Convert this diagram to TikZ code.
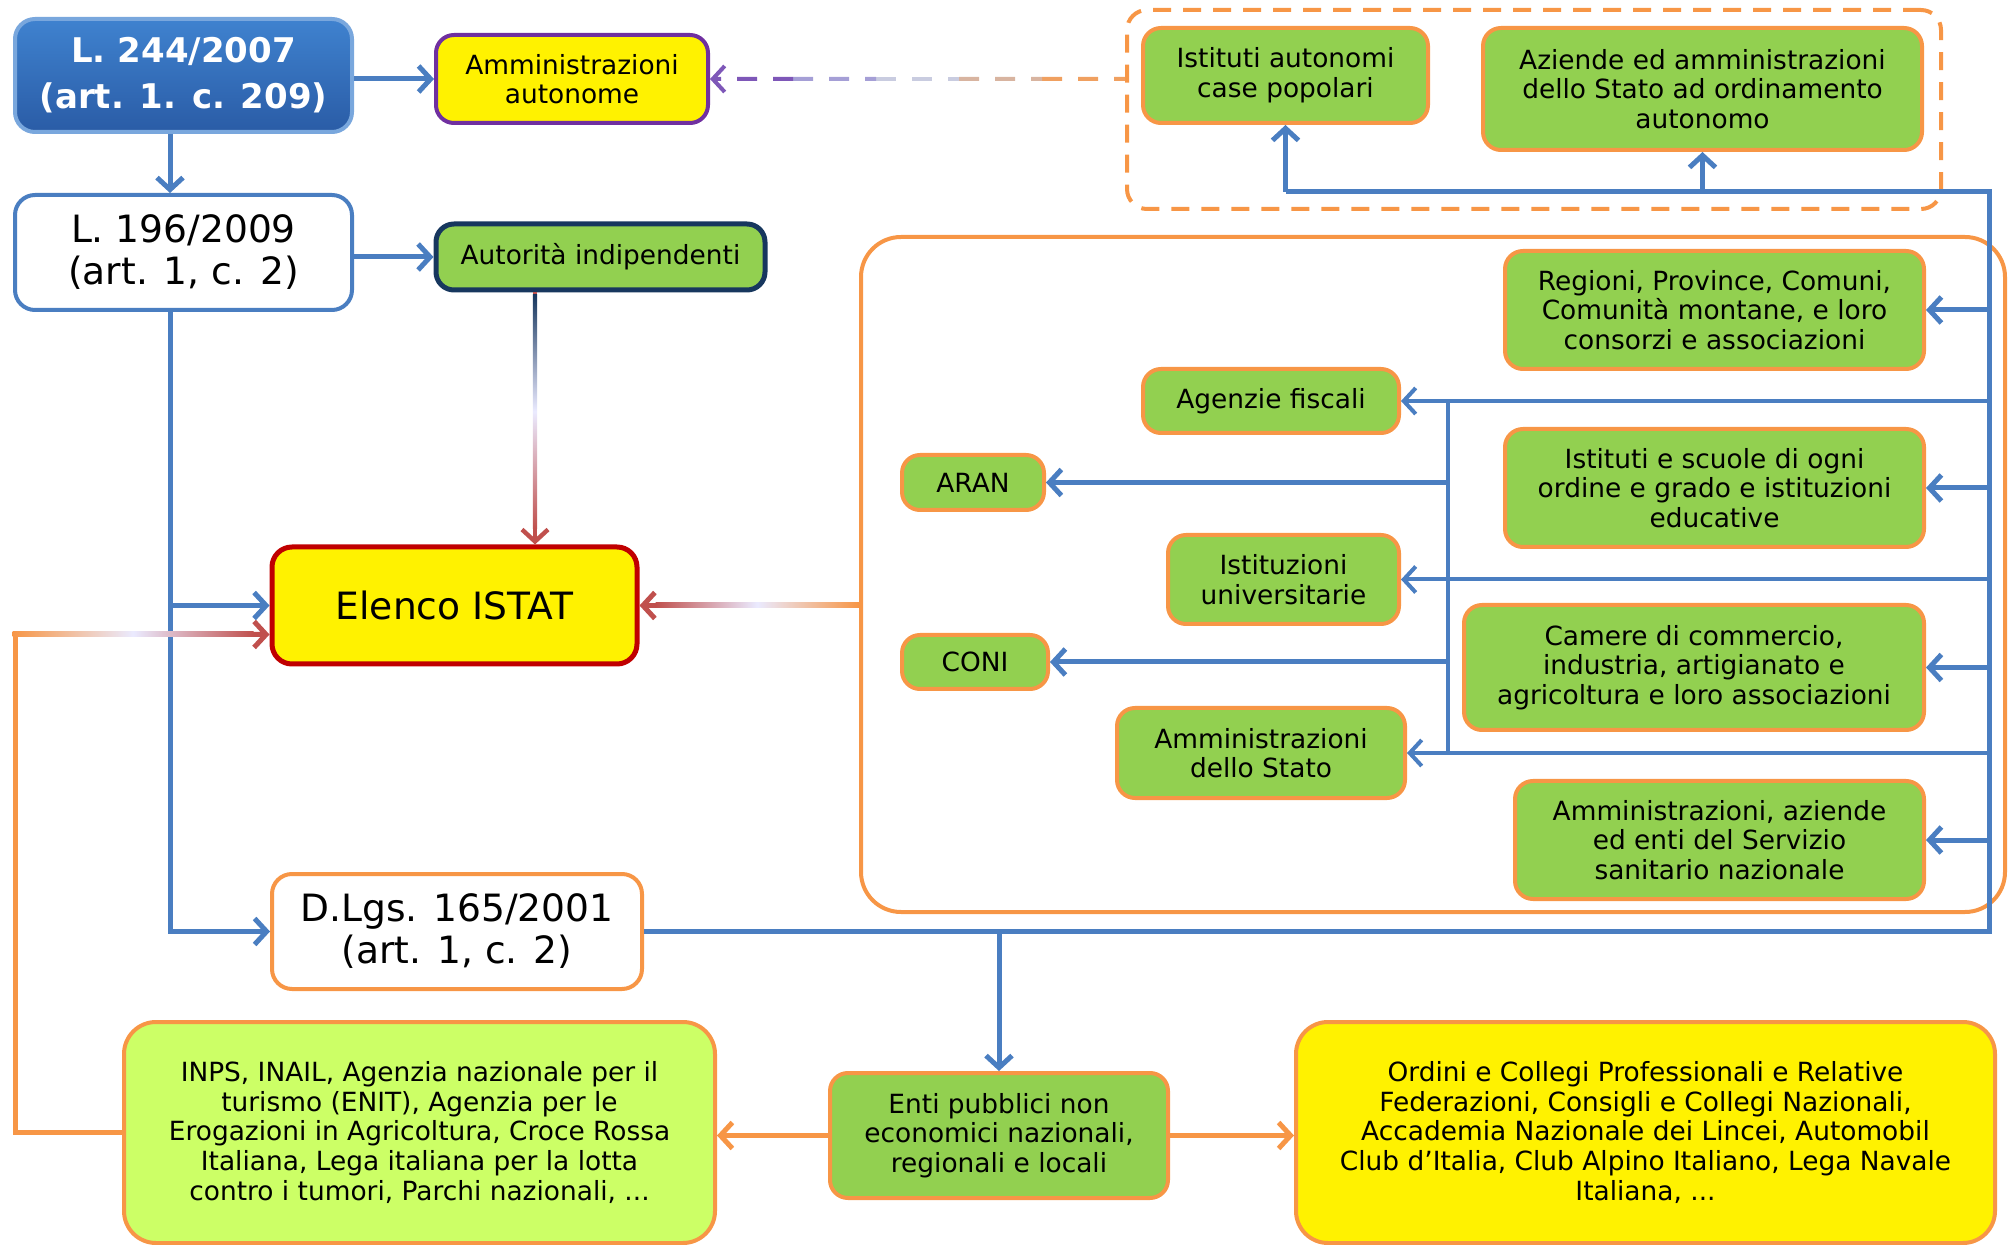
\documentclass[tikz,border=0pt]{standalone}
\usepackage{fontspec}
\setmainfont{DejaVu Sans}
\usetikzlibrary{arrows.meta,calc}

\definecolor{linkblue}{HTML}{4A7EC1}
\definecolor{boxorange}{HTML}{F79646}
\definecolor{boxgreen}{HTML}{92D050}
\definecolor{lightlime}{HTML}{CCFF66}
\definecolor{navyline}{HTML}{17375E}
\definecolor{lawblue}{HTML}{3F82CF}
\definecolor{lawdark}{HTML}{2A5CA6}
\definecolor{violetline}{HTML}{7030A0}
\definecolor{redline}{HTML}{C0504D}
\definecolor{darkred}{HTML}{C00000}
\definecolor{dashviolet}{HTML}{7E57B8}
\definecolor{dashlav}{HTML}{A59FD6}
\definecolor{dashpale}{HTML}{C9CCE0}
\definecolor{dashtan}{HTML}{D8B4A0}
\definecolor{dashorange}{HTML}{F0A060}

\newcommand{\boxfont}{\fontsize{13.2}{14.8}\selectfont}
\newcommand{\lawfont}{\fontsize{18.8}{21}\selectfont}

\begin{document}
\begin{tikzpicture}[x=0.5pt, y=-0.5pt,
    barb/.style={-{Straight Barb[length=6pt,width=13pt]}},
    bluelink/.style={draw=linkblue, line width=2.5pt, barb},
    orangelink/.style={draw=boxorange, line width=2.5pt},
    dashlink/.style={line width=2pt, dash pattern=on 10pt off 8pt},
    greenbox/.style={draw=boxorange, fill=boxgreen, line width=2pt, rounded corners=9pt,
        align=center, font=\boxfont, inner sep=0pt},
    lawbox/.style={fill=white, line width=2pt, rounded corners=10pt,
        align=center, font=\lawfont, inner sep=0pt}]
    \useasboundingbox (0,0) rectangle (2009,1245);

    % Frames
    \node[draw=boxorange, line width=2pt, rounded corners=20pt, minimum width=572pt, minimum height=337.5pt] (bigbox) at (1433,574.5) {};
    \node[draw=boxorange, line width=2pt, rounded corners=10pt, dash pattern=on 9pt off 6pt, minimum width=407pt, minimum height=99.5pt] (dashbox) at (1534,109.5) {};

    % Laws
    \node[lawbox, draw=lawblue!70!white, top color=lawblue, bottom color=lawdark, text=white,
        font=\fontsize{17}{23}\selectfont\bfseries, minimum width=168.5pt, minimum height=56.5pt] (law244) at (183.5,75.5) {L. 244/2007\\(art. 1. c. 209)};
    \node[lawbox, draw=linkblue, minimum width=168.5pt, minimum height=57.5pt] (law196) at (183.5,252.5) {L. 196/2009\\(art. 1, c. 2)};
    \node[lawbox, draw=boxorange, minimum width=185pt, minimum height=57.5pt] (dlgs) at (457,931.5) {D.Lgs. 165/2001\\(art. 1, c. 2)};

    % Elenco ISTAT
    \node[lawbox, draw=darkred, fill=yellow, line width=2.5pt, minimum width=182.5pt, minimum height=58.5pt] (elenco) at (454.5,605.5) {Elenco ISTAT};

    % Left column
    \node[greenbox, draw=violetline, fill=yellow, minimum width=136pt, minimum height=44pt] (ammaut) at (572,79) {Amministrazioni\\autonome};
    \node[greenbox, draw=navyline, line width=2.5pt, minimum width=164.5pt, minimum height=33pt] (autorita) at (600.5,257) {Autorità indipendenti};

    % Dashed group
    \node[greenbox, minimum width=142.5pt, minimum height=47.5pt] (iacp) at (1285.5,75.5) {Istituti autonomi\\case popolari};
    \node[greenbox, minimum width=219.5pt, minimum height=61pt] (aziende) at (1702.5,89) {Aziende ed amministrazioni\\dello Stato ad ordinamento\\autonomo};

    % Big group
    \node[greenbox, minimum width=209.5pt, minimum height=59pt] (regioni) at (1714.5,310) {Regioni, Province, Comuni,\\Comunità montane, e loro\\consorzi e associazioni};
    \node[greenbox, minimum width=128pt, minimum height=32pt] (agenzie) at (1271,401) {Agenzie fiscali};
    \node[greenbox, minimum width=209.5pt, minimum height=59pt] (scuole) at (1714.5,488) {Istituti e scuole di ogni\\ordine e grado e istituzioni\\educative};
    \node[greenbox, minimum width=71pt, minimum height=27.5pt] (aran) at (973,482.5) {ARAN};
    \node[greenbox, minimum width=115.5pt, minimum height=44.5pt] (univ) at (1283.5,579.5) {Istituzioni\\universitarie};
    \node[greenbox, minimum width=230pt, minimum height=62.5pt] (camere) at (1694,667.5) {Camere di commercio,\\industria, artigianato e\\agricoltura e loro associazioni};
    \node[greenbox, minimum width=73pt, minimum height=27pt] (coni) at (975,662) {CONI};
    \node[greenbox, minimum width=144pt, minimum height=45pt] (ammstato) at (1261,753) {Amministrazioni\\dello Stato};
    \node[greenbox, minimum width=204.5pt, minimum height=59pt] (ssn) at (1719.5,840) {Amministrazioni, aziende\\ed enti del Servizio\\sanitario nazionale};

    % Bottom row
    \node[greenbox, fill=lightlime, rounded corners=16pt, minimum width=295.5pt, minimum height=110.5pt] (inps) at (419.5,1132.5) {INPS, INAIL, Agenzia nazionale per il\\turismo (ENIT), Agenzia per le\\Erogazioni in Agricoltura, Croce Rossa\\Italiana, Lega italiana per la lotta\\contro i tumori, Parchi nazionali, ...};
    \node[greenbox, minimum width=169pt, minimum height=62.5pt] (enti) at (999,1135.5) {Enti pubblici non\\economici nazionali,\\regionali e locali};
    \node[greenbox, fill=yellow, rounded corners=16pt, minimum width=349.5pt, minimum height=110.5pt] (ordini) at (1645.5,1132.5) {Ordini e Collegi Professionali e Relative\\Federazioni, Consigli e Collegi Nazionali,\\Accademia Nazionale dei Lincei, Automobil\\Club d'Italia, Club Alpino Italiano, Lega Navale\\Italiana, ...};

    % Helper points
    \coordinate (spine) at (170,0);
    \coordinate (drop) at (535,0);
    \coordinate (loop) at (15,634);
    \coordinate (rail) at (1989,192);
    \coordinate (inner) at (1448,0);

    % L. 244/2007 and L. 196/2009
    \draw[bluelink] (law244.east |- ammaut.west) -- (ammaut.west);
    \draw[bluelink] (law244.south -| spine) -- (law196.north -| spine);
    \draw[bluelink] (law196.east |- autorita.west) -- (autorita.west);
    \draw[bluelink] (law196.south -| spine) |- (dlgs.west);
    \draw[bluelink] (spine |- elenco.west) -- (elenco.west);

    % Autorita to Elenco
    \draw[line width=2.2pt, draw=redline, barb] (autorita.south -| drop) -- (elenco.north -| drop);
    \shade[top color=navyline, bottom color=redline, middle color=blue!8!white] ($(autorita.south -| drop)+(-2.2,2)$) rectangle ($(elenco.north -| drop)+(2.2,-16)$);

    % Big group to Elenco
    \draw[line width=2.5pt, draw=redline, barb] (bigbox.west |- elenco.east) -- (elenco.east);
    \shade[left color=redline, right color=boxorange, middle color=blue!8!white] ($(elenco.east)+(16,-2.5)$) rectangle ($(bigbox.west |- elenco.east)+(0,2.5)$);

    % INPS back to Elenco
    \draw[orangelink] (inps.west) -| (loop);
    \draw[line width=2.5pt, draw=redline, barb] (loop) -- ($(elenco.west)+(0,29)$);
    \shade[left color=boxorange, right color=redline, middle color=blue!8!white] ($(loop)+(-2.5,-2.5)$) rectangle ($(elenco.west)+(-16,31.5)$);

    % Dashed group to Amministrazioni autonome
    \coordinate (gap) at (dashbox.west |- ammaut.east);
    \draw[dashlink, draw=dashorange] ($(ammaut.east)!0.8!(gap)$) -- (gap);
    \draw[dashlink, draw=dashtan] ($(ammaut.east)!0.6!(gap)$) -- ($(ammaut.east)!0.8!(gap)$);
    \draw[dashlink, draw=dashpale] ($(ammaut.east)!0.4!(gap)$) -- ($(ammaut.east)!0.6!(gap)$);
    \draw[dashlink, draw=dashlav] ($(ammaut.east)!0.2!(gap)$) -- ($(ammaut.east)!0.4!(gap)$);
    \draw[dashlink, draw=dashviolet, barb] ($(ammaut.east)!0.2!(gap)$) -- (ammaut.east);

    % D.Lgs. 165/2001 to the right
    \draw[draw=linkblue, line width=2.5pt] (dlgs.east) -| (rail) -- (rail -| iacp.south);
    \draw[bluelink] (rail -| iacp.south) -- (iacp.south);
    \draw[bluelink] (rail -| aziende.south) -- (aziende.south);
    \draw[bluelink] (rail |- regioni.east) -- (regioni.east);
    \draw[bluelink] (rail |- scuole.east) -- (scuole.east);
    \draw[bluelink] (rail |- camere.east) -- (camere.east);
    \draw[bluelink] (rail |- ssn.east) -- (ssn.east);
    \draw[bluelink, line width=2pt] (rail |- agenzie.east) -- (agenzie.east);
    \draw[bluelink, line width=2pt] (rail |- univ.east) -- (univ.east);
    \draw[bluelink, line width=2pt] (rail |- ammstato.east) -- (ammstato.east);
    \draw[draw=linkblue, line width=1.8pt] (inner |- agenzie.east) -- (inner |- ammstato.east);
    \draw[bluelink] (inner |- aran.east) -- (aran.east);
    \draw[bluelink] (inner |- coni.east) -- (coni.east);

    % D.Lgs. 165/2001 down to Enti
    \draw[bluelink] (enti.north |- dlgs.east) -- (enti.north);
    \draw[orangelink, barb] (enti.west) -- (enti.west -| inps.east);
    \draw[orangelink, barb] (enti.east) -- (enti.east -| ordini.west);
\end{tikzpicture}
\end{document}
